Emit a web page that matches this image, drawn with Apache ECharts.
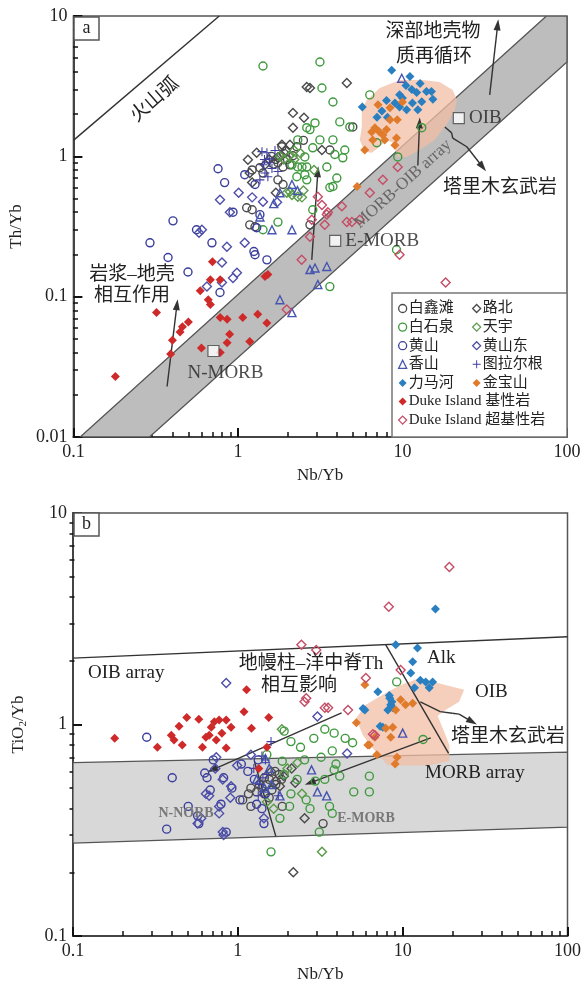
<!DOCTYPE html>
<html>
<head>
<meta charset="utf-8">
<script src="https://cdn.jsdelivr.net/npm/echarts@6/dist/echarts.min.js"></script>
<style>
    html, body { margin: 0; padding: 0; background: #fff; }
    #chart { width: 584px; height: 988px; }
</style>
</head>
<body>
<div id="chart"></div>
<script>
    // ---- tick values ----
    var minorX = [0.2,0.3,0.4,0.5,0.6,0.7,0.8,0.9,2,3,4,5,6,7,8,9,20,30,40,50,60,70,80,90];
    var minorYa = [0.02,0.03,0.04,0.05,0.06,0.07,0.08,0.09,0.2,0.3,0.4,0.5,0.6,0.7,0.8,0.9,2,3,4,5,6,7,8,9];
    var minorYb = [0.2,0.3,0.4,0.5,0.6,0.7,0.8,0.9,2,3,4,5,6,7,8,9];

    // ---- panel a : Nb/Yb vs Th/Yb ----
    var baixintanA = [[1.85,1.17],[2.16,1.01],[1.88,0.84],[1.36,0.83],[1.75,0.68],[1.88,0.63],[2.28,1.17],[4.99,1.62],[3.62,1.11],[1.13,0.43],[1.22,0.416],[1.18,0.325],[1.27,0.315],[1.22,0.80],[1.42,0.76],[2.74,0.325],[2.07,0.87],[1.6,1.0],[2.5,1.3],[1.7,0.95],[1.75,0.9],[1.8,1.0],[1.65,0.88],[1.9,1.05],[2.0,0.95]];
    var lubeiA = [[2.62,3.12],[2.16,2.04],[2.52,1.88],[2.16,1.6],[1.15,0.945],[1.18,0.76],[1.22,0.65],[1.85,1.21],[2.07,1.21],[2.74,3.07],[4.59,3.33],[3.24,1.11],[1.46,0.87],[1.3,1.06],[1.55,0.95],[1.7,0.55],[1.75,0.98],[1.95,1.1]];
    var baishiquanA = [[1.42,4.4],[2.62,1.6],[2.31,1.31],[2.55,0.99],[2.45,0.84],[2.28,0.715],[2.62,0.68],[3.15,4.7],[3.24,3.07],[3.78,2.44],[4.16,1.76],[2.94,1.73],[2.74,1.55],[3.15,1.31],[2.85,1.15],[3.78,1.31],[3.88,1.03],[4.34,0.976],[3.47,0.84],[2.62,0.84],[3.78,0.61],[4.46,1.11],[4.79,1.62],[6.33,2.74],[6.98,1.25],[9.36,0.99],[13.1,1.6],[2.31,0.84],[2.55,0.74],[3.62,0.60],[3.99,0.70],[2.85,0.416],[1.75,0.34],[1.42,0.30],[3.62,0.118],[9.2,0.216],[2.13,0.87]];
    var tianyuA = [[1.98,0.55],[2.13,0.53],[2.31,0.515],[2.45,0.51],[2.07,0.56],[1.9,0.95],[2.2,1.1],[2.5,0.57],[1.8,1.0],[2.9,0.8],[2.05,1.0],[2.2,0.95],[2.4,1.05]];
    var huangshanA = [[0.292,0.242],[0.376,0.19],[0.403,0.347],[0.497,0.15],[0.695,0.242],[0.778,0.107],[0.933,0.40],[1.27,0.199],[1.50,0.183],[0.757,0.815],[1.27,0.63],[1.36,0.384],[1.30,0.31],[1.25,0.21],[0.56,0.30],[0.83,0.65],[1.1,0.74]];
    var huangshandongA = [[0.58,0.285],[0.604,0.30],[0.648,0.118],[0.857,0.227],[0.933,0.136],[1.10,0.242],[0.80,0.175],[0.80,0.126],[0.778,0.49],[1.01,0.55],[1.42,0.475],[1.73,0.47],[0.894,0.40],[1.22,0.51],[0.986,0.148]];
    var xiangshanA = [[1.36,0.37],[1.65,0.46],[2.13,0.30],[2.13,0.63],[1.80,0.55],[1.61,0.30],[2.74,0.156],[2.94,0.16],[3.47,0.164],[3.06,0.122],[1.80,0.095],[2.13,0.077],[9.9,3.6],[2.3,0.57]];
    var tulaergenA = [[1.50,1.06],[1.46,0.76],[1.52,0.715],[1.42,0.87],[1.56,0.96],[1.61,0.82],[1.36,0.68],[1.68,1.1],[1.40,1.08],[1.75,0.78],[1.45,0.95],[1.55,0.9]];
    var limaheA = [[8.6,4.1],[11.1,3.7],[11.4,3.0],[12.2,2.85],[14,2.9],[15.3,2.55],[13.1,2.45],[11.5,2.4],[9.6,2.75],[9.0,2.4],[8.0,2.5],[7.0,1.9],[5.7,2.25],[7.5,2.1],[8.1,1.9],[12.4,2.15],[10.6,2.15],[9.6,2.25],[10,2.6],[12.8,3.3],[15,2.9],[10.5,3.2]];
    var jinbaoshanA = [[7.1,2.33],[8.4,2.22],[9.3,1.82],[8.4,1.82],[10,2.44],[6.8,1.6],[6.5,1.49],[7.6,1.42],[9.2,1.35],[6.6,1.31],[5.9,1.11],[7.8,1.31],[5.3,0.61],[8.0,1.55],[7.2,1.5],[9.0,1.2]];
    var dukeMaficA = [[0.18,0.027],[0.32,0.077],[0.40,0.049],[0.39,0.039],[0.46,0.061],[0.50,0.066],[0.445,0.056],[0.59,0.11],[0.68,0.132],[0.70,0.177],[0.78,0.132],[0.66,0.095],[0.68,0.088],[0.60,0.043],[0.78,0.040],[0.78,0.071],[0.86,0.069],[0.89,0.054],[0.86,0.047],[1.07,0.071],[1.32,0.075],[1.50,0.065],[1.18,0.048],[1.46,0.139],[1.52,0.144]];
    var dukeUltraA = [[3.06,0.515],[3.24,0.45],[3.47,0.385],[2.74,0.267],[2.44,0.183],[4.59,0.34],[5.5,0.353],[6.33,0.55],[3.37,0.325],[2.81,0.353],[1.98,0.081],[9.6,0.199],[18.3,0.126],[9.35,0.84],[7.6,0.68],[4.93,0.34],[4.28,0.44],[3.52,0.40]];

    var refNames = ['N-MORB', 'E-MORB', 'OIB'];
    var refValues = [[0.71,0.041],[3.9,0.25],[22,1.87]];

    var arcLine = [[0.1,1.3],[0.77,10]];
    var bandA = [[0.11,0.01],[75,10],[100,10],[100,4.7],[0.29,0.01]];
    var tarimA = [[5.66,2.14],[6.07,2.52],[7.28,3.07],[9.63,3.5],[13.3,3.5],[16.8,3.39],[20.2,2.97],[21.4,2.52],[20.8,2.14],[18.8,1.73],[15.7,1.31],[12.7,1.11],[10.6,0.99],[9.36,0.99],[8.73,1.25],[8.03,1.31],[7.28,1.17],[6.51,1.06],[5.9,1.08],[5.5,1.31],[5.66,1.62]];
    var arrowsA = [
        [[33.9,2.74],[37.9,8.65]],
        [[12.4,0.86],[12.7,1.73]],
        [[2.81,0.183],[3.06,0.776]],
        [[0.371,0.0229],[0.426,0.0877]],
        [[24.6,1.17],[30.7,0.84]]
    ];
    var bracketA = [[18.1,1.62],[19.9,1.47],[20.2,1.35],[24.6,1.17]];

    // ---- panel b : Nb/Yb vs TiO2/Yb ----
    var baixintanB = [[1.2,0.50],[1.16,0.47],[1.2,0.41],[1.07,0.44],[1.68,0.60],[1.78,0.58],[1.84,0.55],[1.55,0.45],[1.61,0.49],[1.86,0.41],[3.29,0.34],[1.45,0.56],[1.35,0.52],[1.7,0.52],[1.4,0.5],[1.5,0.52],[1.45,0.47],[1.3,0.48],[1.55,0.55]];
    var lubeiB = [[2.17,0.20],[2.54,0.36],[1.59,0.60],[2.23,0.53],[2.12,0.62],[1.8,0.51],[1.7,0.54],[1.9,0.57]];
    var baishiquanB = [[1.91,0.93],[2.1,0.83],[3.37,0.95],[3.84,0.91],[4.48,0.86],[4.97,0.82],[2.89,0.86],[3.74,0.75],[3.2,0.70],[2.54,0.68],[3.94,0.65],[1.86,0.67],[1.91,0.58],[2.29,0.55],[3.37,0.55],[3.84,0.61],[4.15,0.57],[6.28,0.57],[5.05,0.48],[6.28,0.48],[2.1,0.47],[2.6,0.44],[2.74,0.40],[2.06,0.41],[1.8,0.36],[3.6,0.41],[3.74,0.38],[3.12,0.31],[1.59,0.25],[13.3,0.85],[2.95,0.54],[9.2,1.59],[1.5,0.72],[2.4,0.78]];
    var tianyuB = [[3.24,0.25],[1.85,0.95],[2.0,0.62],[2.3,0.66],[1.5,0.43],[2.45,0.47],[1.65,0.40]];
    var huangshanB = [[0.28,0.87],[0.40,0.56],[0.37,0.32],[0.50,0.41],[0.57,0.37],[0.58,0.34],[0.63,0.59],[0.68,0.49],[0.79,0.42],[0.71,0.68],[0.92,0.50],[1.03,0.44],[1.05,0.65],[1.33,0.68],[1.44,0.34],[1.47,0.47],[1.26,0.55],[0.65,0.56],[0.82,0.56],[0.85,0.31],[1.15,0.6],[1.3,0.42],[1.4,0.4]];
    var huangshandongB = [[0.85,1.57],[0.74,0.70],[0.99,0.64],[0.91,0.51],[0.77,0.41],[0.60,0.36],[0.57,0.34],[0.82,0.30],[0.67,0.46],[0.64,0.47],[0.73,0.62],[0.81,0.55],[0.90,0.45],[0.77,0.38],[0.81,0.31],[4.6,0.73],[3.04,1.09],[1.44,0.36],[1.2,0.72]];
    var xiangshanB = [[1.55,0.62],[1.8,0.46],[2.8,0.61],[3.04,0.48],[3.46,0.46],[10.0,0.91],[1.47,0.69],[1.3,0.55],[1.45,0.5],[1.6,0.52]];
    var tulaergenB = [[1.59,0.83],[1.4,0.71],[1.47,0.68],[1.33,0.46],[1.76,0.46],[1.5,0.58],[1.25,0.62],[1.35,0.52],[1.42,0.56]];
    var limaheB = [[15.8,3.52],[9.08,2.38],[12.3,2.30],[11.5,1.98],[11.2,1.75],[12.8,1.62],[13.8,1.59],[15.2,1.59],[14.5,1.49],[7.07,1.43],[5.9,1.17],[8.35,1.33],[8.47,1.24],[8.13,1.17],[11.8,1.49],[8.71,1.20],[7.58,0.97],[5.75,1.19],[7.3,0.98],[8.6,1.28],[8.3,1.37]];
    var jinbaoshanB = [[5.9,1.54],[9.72,1.31],[10.4,1.24],[11.5,1.26],[9.08,1.17],[8.71,0.97],[7.9,0.96],[8.47,0.87],[6.78,0.87],[6.15,0.80],[9.25,0.70],[9.0,0.65],[5.24,1.02],[6.28,0.80],[6.97,0.72]];
    var dukeMaficB = [[1.13,1.46],[1.09,1.15],[1.54,1.08],[0.49,1.08],[0.58,1.06],[0.44,0.98],[0.72,1.03],[0.77,1.05],[0.85,1.05],[0.91,0.97],[0.69,0.97],[0.67,0.89],[0.64,0.87],[0.395,0.89],[0.41,0.845],[0.46,0.80],[0.325,0.78],[0.179,0.86],[0.61,0.78],[0.74,0.845],[0.85,0.775],[1.21,0.96],[1.50,0.78],[0.80,0.91],[1.34,0.62]];
    var dukeUltraB = [[19.2,5.55],[8.24,3.6],[2.43,2.38],[2.99,2.25],[9.72,1.81],[5.98,1.66],[2.6,1.33],[4.66,1.17],[3.53,1.20],[6.78,0.89],[2.54,1.28],[3.37,1.2],[6.6,0.90]];

    var oibArrayLine = [[0.1,2.06],[100,2.6]];
    var bandB = [[0.1,0.66],[100,0.74],[100,0.327],[0.1,0.275]];
    var alkLine = [[7.9,2.38],[19,0.73]];
    var nmorbLine = [[1.26,0.67],[1.7,0.296]];
    var tarimB = [[5.21,1.07],[5.98,1.24],[8.13,1.43],[10.0,1.55],[12.7,1.66],[17.4,1.55],[23.6,1.46],[22.0,1.28],[18.2,1.17],[16.3,1.10],[17.7,0.94],[19.2,0.80],[19.2,0.67],[14.2,0.64],[8.13,0.64],[6.6,0.77],[5.74,0.89]];
    var arrowsB = [
        [[4.26,1.135],[0.70,0.61]],
        [[14.8,0.865],[2.74,0.53]],
        [[22.0,1.12],[26.4,1.03]]
    ];
    var squiggleB = [[12.8,1.28],[16.9,1.15],[20.0,1.13],[22.0,1.12]];

    var serif = 'Liberation Serif, Noto Sans CJK SC, serif';
    var cjk = 'Liberation Serif, Noto Sans CJK SC';

    function pts(name, data, g, sym, color, filled, size) {
        return {
            name: name,
            type: 'scatter',
            xAxisIndex: g * 2,
            yAxisIndex: g * 2,
            data: data,
            symbol: sym,
            symbolSize: size || 8,
            silent: true,
            z: 5,
            itemStyle: filled
                ? { color: color, borderWidth: 0, opacity: 1 }
                : { color: 'rgba(255,255,255,0)', borderColor: color, borderWidth: 1.4, opacity: 1 }
        };
    }

    function band(data, g, fill) {
        return {
            type: 'custom',
            xAxisIndex: g * 2,
            yAxisIndex: g * 2,
            data: [0],
            silent: true,
            clip: true,
            z: 1,
            renderItem: function (params, api) {
                var p = data.map(function (d) { return api.coord(d); });
                return { type: 'polygon', shape: { points: p }, style: fill };
            }
        };
    }

    function seg(a, b, arrow) {
        return [
            { coord: a, symbol: 'none' },
            { coord: b, symbol: arrow ? 'triangle' : 'none', symbolSize: [7, 11] }
        ];
    }

    function lines(g, list) {
        return {
            type: 'line',
            xAxisIndex: g * 2,
            yAxisIndex: g * 2,
            data: [],
            silent: true,
            z: 4,
            markLine: {
                silent: true,
                animation: false,
                symbol: ['none', 'none'],
                label: { show: false },
                lineStyle: { color: '#333', width: 1.4, type: 'solid' },
                emphasis: { disabled: true },
                data: list
            }
        };
    }

    function polyline(pl) {
        var out = [];
        for (var i = 0; i < pl.length - 1; i++) out.push(seg(pl[i], pl[i + 1], false));
        return out;
    }

    var cross = 'path://M4.4,0H5.6V4.4H10V5.6H5.6V10H4.4V5.6H0V4.4H4.4Z';

    var dark = '#4a4a4a', green = '#3f9a3f', green2 = '#5a9a4a', navy = '#3a3e9c', navy2 = '#4e4fa8',
        triBlue = '#4655b0', purple = '#3f3da2', blue = '#2a7fc1', orange = '#e07b2c', red = '#cf2a2a', pink = '#c64d66';

    var groups = [
        ['白鑫滩', baixintanA, baixintanB, 'circle', dark, false, 8],
        ['路北', lubeiA, lubeiB, 'diamond', dark, false, 9],
        ['白石泉', baishiquanA, baishiquanB, 'circle', green, false, 8],
        ['天宇', tianyuA, tianyuB, 'diamond', green2, false, 9],
        ['黄山', huangshanA, huangshanB, 'circle', navy, false, 8],
        ['黄山东', huangshandongA, huangshandongB, 'diamond', navy2, false, 9],
        ['香山', xiangshanA, xiangshanB, 'triangle', triBlue, false, 8],
        ['图拉尔根', tulaergenA, tulaergenB, cross, purple, true, 9],
        ['力马河', limaheA, limaheB, 'diamond', blue, true, 9],
        ['金宝山', jinbaoshanA, jinbaoshanB, 'diamond', orange, true, 9],
        ['Duke Island 基性岩', dukeMaficA, dukeMaficB, 'diamond', red, true, 9],
        ['Duke Island 超基性岩', dukeUltraA, dukeUltraB, 'diamond', pink, false, 9]
    ];

    var series = [
        band(bandA, 0, { fill: '#bdbdbd', stroke: '#555', lineWidth: 1.3 }),
        band(tarimA, 0, { fill: 'rgba(242,190,166,0.75)' }),
        band(bandB, 1, { fill: '#d8d8d8', stroke: '#555', lineWidth: 1.3 }),
        band(tarimB, 1, { fill: 'rgba(242,190,166,0.75)' }),
        lines(0, [seg(arcLine[0], arcLine[1], false)]
            .concat(arrowsA.map(function (a) { return seg(a[0], a[1], true); }))
            .concat(polyline(bracketA))),
        lines(1, [seg(oibArrayLine[0], oibArrayLine[1], false),
                  seg(alkLine[0], alkLine[1], false),
                  seg(nmorbLine[0], nmorbLine[1], false)]
            .concat(arrowsB.map(function (a) { return seg(a[0], a[1], true); }))
            .concat(polyline(squiggleB)))
    ];
    groups.forEach(function (g) {
        series.push(pts(g[0], g[1], 0, g[3], g[4], g[5], g[6]));
        series.push(pts(g[0], g[2], 1, g[3], g[4], g[5], g[6]));
    });
    series.push({
        type: 'scatter',
        xAxisIndex: 0,
        yAxisIndex: 0,
        symbol: 'rect',
        symbolSize: 11,
        silent: true,
        z: 6,
        itemStyle: { color: '#fff', borderColor: '#444', borderWidth: 1.2 },
        data: refValues.map(function (v, i) {
            return {
                name: refNames[i],
                value: v,
                label: {
                    show: true,
                    formatter: '{b}',
                    position: i === 0 ? 'bottom' : 'right',
                    offset: i === 0 ? [12, 2] : [0, 0],
                    distance: 4,
                    fontFamily: serif,
                    fontSize: 19,
                    color: '#222'
                }
            };
        })
    });

    // main axis carries the decade ticks and labels; the second one is pushed
    // onto the same edge with a negative offset and only draws the minor ticks
    var tickMain = { show: true, inside: true, length: 9, lineStyle: { color: '#111', width: 2 } };
    function tickMinor(vals) {
        return { show: true, inside: false, length: 5, customValues: vals, lineStyle: { color: '#111', width: 1.5 } };
    }
    function xAx(g, h) {
        return [{
            type: 'log', gridIndex: g, min: 0.1, max: 100, position: 'bottom',
            axisLine: { show: true, lineStyle: { color: '#444', width: 2 } },
            axisTick: tickMain,
            axisLabel: { fontFamily: serif, fontSize: 18, color: '#222', margin: 6 },
            splitLine: { show: false },
            name: 'Nb/Yb', nameLocation: 'middle', nameGap: 30,
            nameTextStyle: { fontFamily: serif, fontSize: 17, color: '#222' }
        }, {
            type: 'log', gridIndex: g, min: 0.1, max: 100, position: 'top', offset: -h,
            axisLine: { show: true, lineStyle: { color: 'rgba(0,0,0,0)' } },
            axisTick: tickMinor(minorX),
            axisLabel: { show: false },
            splitLine: { show: false }
        }];
    }
    function yAx(g, min, minor, name, w) {
        var ax = {
            type: 'log', gridIndex: g, min: min, max: 10, position: 'left',
            axisLine: { show: true, lineStyle: { color: '#444', width: 2 } },
            axisTick: tickMain,
            axisLabel: { fontFamily: serif, fontSize: 18, color: '#222', margin: 6 },
            splitLine: { show: false },
            name: name, nameLocation: 'middle', nameGap: 44,
            nameTextStyle: { fontFamily: serif, fontSize: 17, color: '#222' }
        };
        if (g === 1) {
            ax.nameTextStyle.rich = { s: { fontFamily: serif, fontSize: 11, verticalAlign: 'bottom', padding: [9, 0, 0, 0] } };
        }
        return [ax, {
            type: 'log', gridIndex: g, min: min, max: 10, position: 'right', offset: -w,
            axisLine: { show: true, lineStyle: { color: 'rgba(0,0,0,0)' } },
            axisTick: tickMinor(minor),
            axisLabel: { show: false },
            splitLine: { show: false }
        }];
    }

    function txt(text, x, y, size, opts) {
        opts = opts || {};
        return {
            type: 'text', x: x, y: y, z: 20,
            rotation: opts.rot ? opts.rot * Math.PI / 180 : 0,
            silent: true,
            style: {
                text: text,
                font: (opts.weight || 'normal') + ' ' + size + 'px ' + cjk,
                fill: opts.color || '#222',
                align: opts.align || 'center',
                verticalAlign: 'middle'
            }
        };
    }
    function tag(letter, x, y) {
        return [
            { type: 'rect', z: 19, silent: true, shape: { x: x, y: y, width: 25, height: 23 },
              style: { fill: '#fff', stroke: '#555', lineWidth: 1.5 } },
            txt(letter, x + 12.5, y + 11.5, 18)
        ];
    }

    var legendNames1 = ['白鑫滩', '白石泉', '黄山', '香山', '力马河', 'Duke Island 基性岩', 'Duke Island 超基性岩'];
    var legendNames2 = ['路北', '天宇', '黄山东', '图拉尔根', '金宝山'];
    var legendBase = {
        orient: 'vertical', itemWidth: 8, itemHeight: 8, itemGap: 3.6, selectedMode: false,
        padding: 0, itemStyle: { borderWidth: 1.3 },
        textStyle: { fontFamily: cjk, fontSize: 15, color: '#222', padding: [0, 0, 0, -3] }
    };

    var chart = echarts.init(document.getElementById('chart'));
    chart.setOption({
        backgroundColor: '#fff',
        animation: false,
        grid: [
            { left: 73, top: 16, width: 494, height: 421, show: true, borderColor: '#555', borderWidth: 1.5 },
            { left: 73, top: 513, width: 498, height: 423, show: true, borderColor: '#555', borderWidth: 1.5 }
        ],
        xAxis: xAx(0, 421).concat(xAx(1, 423)),
        yAxis: yAx(0, 0.01, minorYa, 'Th/Yb', 494).concat(yAx(1, 0.1, minorYb, 'TiO{s|2}/Yb', 498)),
        legend: [
            Object.assign({ left: 398, top: 301, data: legendNames1 }, legendBase),
            Object.assign({ left: 472, top: 301, data: legendNames2 }, legendBase)
        ],
        graphic: [].concat(
            tag('a', 74, 17),
            tag('b', 74, 513),
            [
                { type: 'rect', z: 3, silent: true, shape: { x: 392, y: 293, width: 175, height: 144 },
                  style: { fill: '#fff', stroke: '#777', lineWidth: 1.5 } },
                txt('火山弧', 155, 100, 19, { rot: 41 }),
                txt('深部地壳物', 433, 32, 19),
                txt('质再循环', 434, 57, 19),
                txt('MORB-OIB array', 403, 184, 17, { rot: 42, color: '#666' }),
                txt('塔里木玄武岩', 500, 188, 19),
                txt('岩浆–地壳', 132, 275, 19),
                txt('相互作用', 132, 296, 19),
                txt('OIB array', 88, 673, 19, { align: 'left' }),
                txt('地幔柱–洋中脊Th', 311, 664, 19),
                txt('相互影响', 299, 686, 19),
                txt('Alk', 427, 658, 19, { align: 'left' }),
                txt('OIB', 475, 692, 19, { align: 'left' }),
                txt('塔里木玄武岩', 451, 737, 19, { align: 'left' }),
                txt('MORB array', 425, 773, 19, { align: 'left' }),
                txt('N-NORB', 186, 813, 14, { weight: 'bold', color: '#777' }),
                txt('E-MORB', 366, 818, 14, { weight: 'bold', color: '#777' })
            ]
        ),
        series: series
    });
</script>
</body>
</html>
